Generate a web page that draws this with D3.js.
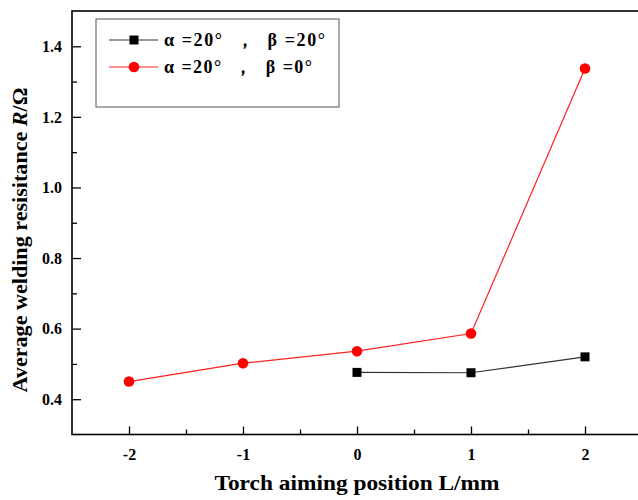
<!DOCTYPE html>
<html>
<head>
<meta charset="utf-8">
<script src="https://cdn.jsdelivr.net/npm/d3@7"></script>
<style>
  body { margin: 0; background: #fff; }
  svg text { font-family: "Liberation Serif", "Times New Roman", serif; font-weight: bold; }
</style>
</head>
<body>
<div id="chart"></div>
<script>
// data
var positions = [-2, -1, 0, 1, 2];
var xTicks = [-2, -1, 0, 1, 2];
var yTicks = [0.4, 0.6, 0.8, 1.0, 1.2, 1.4];
var beta20X = [0, 1, 2];
var beta20Y = [0.476, 0.475, 0.520];
var beta0Y = [0.450, 0.502, 0.536, 0.586, 1.337];
var seriesNames = ["α =20°  ，  β =20°", "α =20°  ，  β =0°"];

var W = 638, H = 500;
var plotL = 72, plotT = 11, plotR = 642, plotB = 434.5;

var svg = d3.select("#chart").append("svg")
  .attr("width", W)
  .attr("height", H);

var x = d3.scaleLinear().domain([-2.5, 2.5]).range([plotL, plotR]);
var y = d3.scaleLinear().domain([0.3, 1.5]).range([plotB, plotT]);

// axes, ticks pointing inward
svg.append("g")
  .attr("transform", "translate(0," + plotB + ")")
  .call(d3.axisBottom(x).tickValues(xTicks).tickSizeInner(-8).tickSizeOuter(0).tickPadding(14)
    .tickFormat(function(d) { return String(d); }));
svg.append("g")
  .attr("transform", "translate(0," + plotB + ")")
  .call(d3.axisBottom(x).tickValues([-1.5, -0.5, 0.5, 1.5]).tickSizeInner(-5).tickSizeOuter(0).tickFormat(""));

svg.append("g")
  .attr("transform", "translate(" + plotL + ",0)")
  .call(d3.axisLeft(y).tickValues(yTicks).tickSizeInner(-9).tickSizeOuter(0).tickPadding(10)
    .tickFormat(d3.format(".1f")));
svg.append("g")
  .attr("transform", "translate(" + plotL + ",0)")
  .call(d3.axisLeft(y).tickValues([0.5, 0.7, 0.9, 1.1, 1.3]).tickSizeInner(-5).tickSizeOuter(0).tickFormat(""));

svg.selectAll(".domain").remove();
svg.selectAll(".tick line").attr("stroke", "#000").attr("stroke-width", 1.3);
svg.selectAll(".tick text").attr("font-size", "16px").attr("fill", "#000");

// frame
svg.append("rect")
  .attr("x", plotL).attr("y", plotT)
  .attr("width", plotR - plotL).attr("height", plotB - plotT)
  .attr("fill", "none").attr("stroke", "#000").attr("stroke-width", 1.6);

// axis titles
svg.append("text")
  .attr("x", 357).attr("y", 490)
  .attr("text-anchor", "middle")
  .attr("font-size", "21px")
  .attr("textLength", 285)
  .attr("lengthAdjust", "spacingAndGlyphs")
  .text("Torch aiming position L/mm");

var yt = svg.append("text")
  .attr("transform", "translate(27,240) rotate(-90)")
  .attr("text-anchor", "middle")
  .attr("font-size", "20px")
  .attr("textLength", 305)
  .attr("lengthAdjust", "spacingAndGlyphs");
yt.append("tspan").text("Average welding resisitance ");
yt.append("tspan").attr("font-style", "italic").text("R");
yt.append("tspan").text("/Ω");

// lines
var line = d3.line().x(function(d) { return x(d[0]); }).y(function(d) { return y(d[1]); });

var blackPts = beta20X.map(function(d, i) { return [d, beta20Y[i]]; });
var redPts = positions.map(function(d, i) { return [d, beta0Y[i]]; });

svg.append("path").datum(blackPts)
  .attr("d", line).attr("fill", "none").attr("stroke", "#333").attr("stroke-width", 1.2);
svg.append("path").datum(redPts)
  .attr("d", line).attr("fill", "none").attr("stroke", "#ff2020").attr("stroke-width", 1.2);

svg.selectAll(".sq").data(blackPts).enter().append("rect")
  .attr("class", "sq")
  .attr("x", function(d) { return x(d[0]) - 4.5; })
  .attr("y", function(d) { return y(d[1]) - 4.5; })
  .attr("width", 9).attr("height", 9)
  .attr("fill", "#000");

svg.selectAll(".dot").data(redPts).enter().append("circle")
  .attr("class", "dot")
  .attr("cx", function(d) { return x(d[0]); })
  .attr("cy", function(d) { return y(d[1]); })
  .attr("r", 5.3)
  .attr("fill", "#ff0000");

// legend
var lg = svg.append("g");
lg.append("rect")
  .attr("x", 96).attr("y", 19).attr("width", 243).attr("height", 88)
  .attr("fill", "#fff").attr("stroke", "#555").attr("stroke-width", 1);

var rows = [{ c: "#333", y: 40, shape: "sq", len: 161 }, { c: "#ff2020", y: 67, shape: "dot", len: 148 }];
rows.forEach(function(r, i) {
  lg.append("line")
    .attr("x1", 109).attr("x2", 158).attr("y1", r.y).attr("y2", r.y)
    .attr("stroke", r.c).attr("stroke-width", 1.2);
  if (r.shape == "sq") {
    lg.append("rect").attr("x", 129.5).attr("y", r.y - 4.5).attr("width", 9).attr("height", 9).attr("fill", "#000");
  } else {
    lg.append("circle").attr("cx", 134).attr("cy", r.y).attr("r", 5.3).attr("fill", "#ff0000");
  }
  lg.append("text")
    .attr("x", 164).attr("y", r.y + 6)
    .attr("font-size", "18px")
    .attr("textLength", r.len)
    .attr("lengthAdjust", "spacing")
    .style("white-space", "pre")
    .text(seriesNames[i]);
});
</script>
</body>
</html>
